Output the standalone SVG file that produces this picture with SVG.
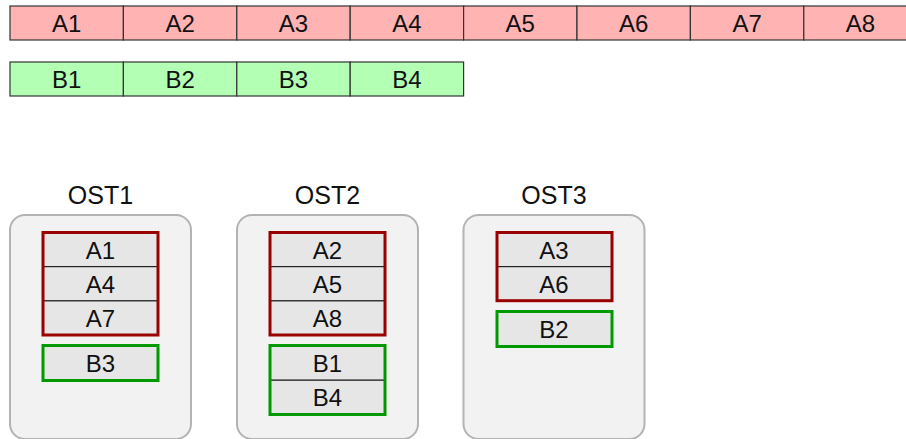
<svg xmlns="http://www.w3.org/2000/svg" width="906" height="439" viewBox="0 0 906 439">
<style>
  text { font-family: "Liberation Sans", Arial, sans-serif; font-size: 24px; fill: #111; text-anchor: middle; }
  .ost-label { font-size: 25px; }
  .a { fill: #ffb3b3; stroke: #333; stroke-width: 1.2; }
  .b { fill: #b3ffb3; stroke: #333; stroke-width: 1.2; }
  .ost { fill: #f2f2f2; stroke: #b3b3b3; stroke-width: 2; }
  .chunk { fill: #e6e6e6; stroke: #111; stroke-width: 1; }
  .red { fill: none; stroke: #990000; stroke-width: 3; }
  .green { fill: none; stroke: #009900; stroke-width: 3; }
</style>
<g id="stripe-A">
  <g id="A1"><rect class="a" x="10" y="6" width="113.4" height="34"/><text x="66.7" y="31.5">A1</text></g>
  <g id="A2"><rect class="a" x="123.4" y="6" width="113.4" height="34"/><text x="180.1" y="31.5">A2</text></g>
  <g id="A3"><rect class="a" x="236.8" y="6" width="113.4" height="34"/><text x="293.5" y="31.5">A3</text></g>
  <g id="A4"><rect class="a" x="350.2" y="6" width="113.4" height="34"/><text x="406.9" y="31.5">A4</text></g>
  <g id="A5"><rect class="a" x="463.6" y="6" width="113.4" height="34"/><text x="520.3" y="31.5">A5</text></g>
  <g id="A6"><rect class="a" x="577" y="6" width="113.4" height="34"/><text x="633.7" y="31.5">A6</text></g>
  <g id="A7"><rect class="a" x="690.4" y="6" width="113.4" height="34"/><text x="747.1" y="31.5">A7</text></g>
  <g id="A8"><rect class="a" x="803.8" y="6" width="113.4" height="34"/><text x="860.5" y="31.5">A8</text></g>
</g>
<g id="stripe-B">
  <g id="B1"><rect class="b" x="10" y="62" width="113.4" height="34"/><text x="66.7" y="87.5">B1</text></g>
  <g id="B2"><rect class="b" x="123.4" y="62" width="113.4" height="34"/><text x="180.1" y="87.5">B2</text></g>
  <g id="B3"><rect class="b" x="236.8" y="62" width="113.4" height="34"/><text x="293.5" y="87.5">B3</text></g>
  <g id="B4"><rect class="b" x="350.2" y="62" width="113.4" height="34"/><text x="406.9" y="87.5">B4</text></g>
</g>
<g id="OST1">
  <text class="ost-label" x="100.5" y="204">OST1</text>
  <rect class="ost" x="10" y="215" width="181" height="224" rx="15"/>
  <rect class="chunk" x="43" y="232.5" width="115" height="34.2"/><text x="100.5" y="258.8">A1</text>
  <rect class="chunk" x="43" y="266.7" width="115" height="34.2"/><text x="100.5" y="293">A4</text>
  <rect class="chunk" x="43" y="300.9" width="115" height="34.1"/><text x="100.5" y="327.2">A7</text>
  <rect class="red" x="43" y="232.5" width="115" height="102.5"/>
  <rect class="chunk" x="43" y="345.5" width="115" height="35"/><text x="100.5" y="371.8">B3</text>
  <rect class="green" x="43" y="345.5" width="115" height="35"/>
</g>
<g id="OST2">
  <text class="ost-label" x="327.5" y="204">OST2</text>
  <rect class="ost" x="237" y="215" width="181" height="224" rx="15"/>
  <rect class="chunk" x="270" y="232.5" width="115" height="34.2"/><text x="327.5" y="258.8">A2</text>
  <rect class="chunk" x="270" y="266.7" width="115" height="34.2"/><text x="327.5" y="293">A5</text>
  <rect class="chunk" x="270" y="300.9" width="115" height="34.1"/><text x="327.5" y="327.2">A8</text>
  <rect class="red" x="270" y="232.5" width="115" height="102.5"/>
  <rect class="chunk" x="270" y="345.5" width="115" height="34.7"/><text x="327.5" y="371.6">B1</text>
  <rect class="chunk" x="270" y="380.2" width="115" height="34.3"/><text x="327.5" y="406.1">B4</text>
  <rect class="green" x="270" y="345.5" width="115" height="69"/>
</g>
<g id="OST3">
  <text class="ost-label" x="554" y="204">OST3</text>
  <rect class="ost" x="463.5" y="215" width="181" height="224" rx="15"/>
  <rect class="chunk" x="497" y="232.5" width="115" height="34.2"/><text x="554" y="258.8">A3</text>
  <rect class="chunk" x="497" y="266.7" width="115" height="34"/><text x="554" y="293">A6</text>
  <rect class="red" x="497" y="232.5" width="115" height="68.2"/>
  <rect class="chunk" x="497" y="311.5" width="115" height="35"/><text x="554" y="337.8">B2</text>
  <rect class="green" x="497" y="311.5" width="115" height="35"/>
</g>
<g id="connectors"></g>
</svg>
